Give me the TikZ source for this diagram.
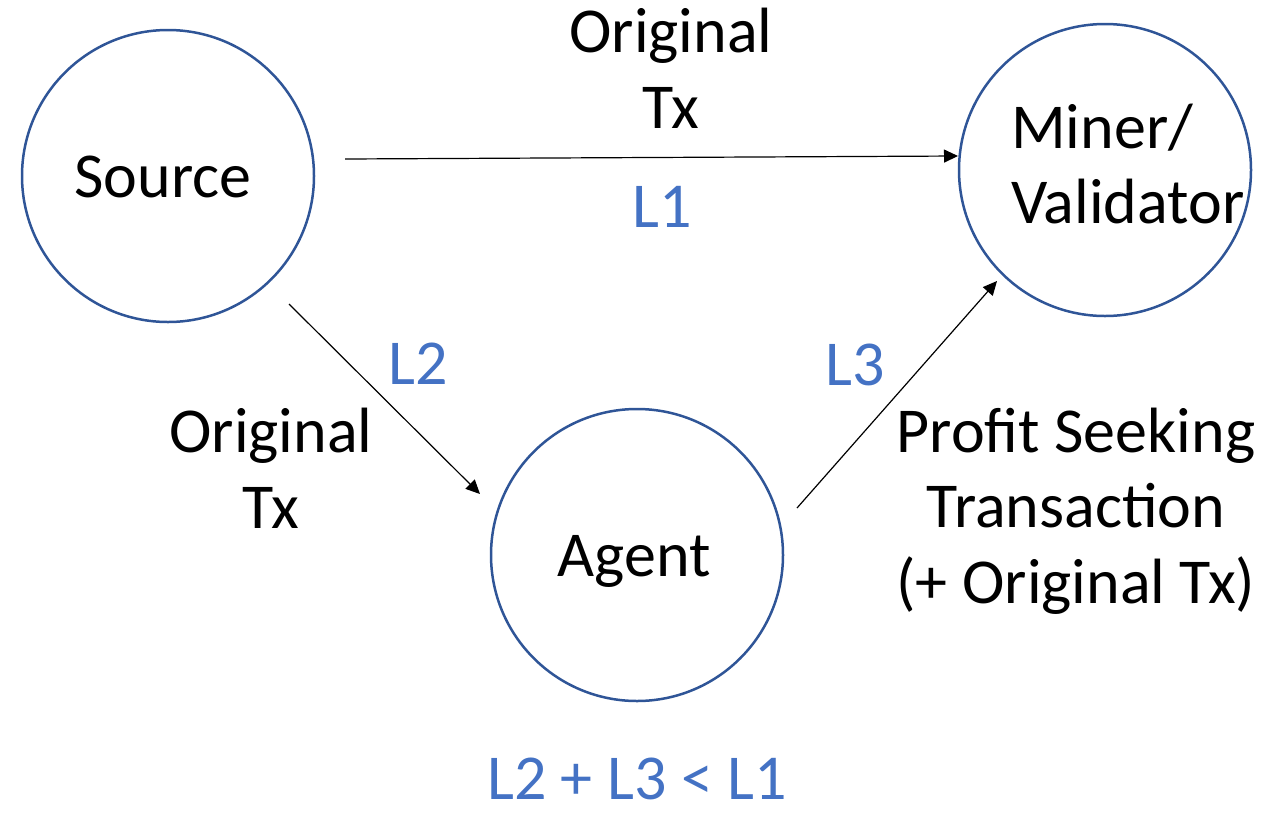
\documentclass[tikz,border=0pt]{standalone}
\usepackage{fontspec}
\setmainfont{Carlito}
\usetikzlibrary{arrows.meta}
\definecolor{ringblue}{HTML}{2F5597}
\definecolor{latblue}{HTML}{4472C4}
\begin{document}
\begin{tikzpicture}[x=1pt,y=-1pt,
  party/.style={circle, draw=ringblue, line width=2.5pt, minimum size=292pt, inner sep=0pt},
  lbl/.style={font=\fontsize{64}{75.5}\selectfont, inner sep=0pt, anchor=base, align=center},
  lat/.style={lbl, text=latblue},
  flow/.style={line width=1.2pt, -{Triangle[length=14pt,width=13pt]}}]
\useasboundingbox (0,0) rectangle (1261,812);

% the three parties
\node[party] (src) at (168,176) {};
\node[party] (mv)  at (1105,170) {};
\node[party] (ag)  at (637,555) {};

% names inside the circles (multi-line nodes sit on their last baseline)
\node[lbl] (srct) at (163,197) {Source};
\node[lbl] (agt)  at (634,576) {Agent};
\node[lbl, anchor=base west, align=left] (mvt) at (1011,223.5) {Miner/\\Validator};

% connector end points
\coordinate (s1) at (345,159);
\coordinate (e1) at (958,156);
\coordinate (s2) at (289,304);
\coordinate (e2) at (480,494);
\coordinate (s3) at (797,508);
\coordinate (e3) at (997,281);

\draw[flow] (s1) -- (e1);
\draw[flow] (s2) -- (e2);
\draw[flow] (s3) -- (e3);

% transaction labels
\node[lbl] (tx1) at (671,128) {Original\\Tx};
\node[lbl] (tx2) at (271,528) {Original\\Tx};
\node[lbl] (tx3) at (1076,603) {Profit Seeking\\Transaction\\(+ Original Tx)};

% latencies
\node[lat] (l1) at (662,227) {L1};
\node[lat] (l2) at (418,384) {L2};
\node[lat] (l3) at (855,385) {L3};
\node[lat, text depth=0pt] (sum) at (637,799) {L2 + L3 < L1};
\end{tikzpicture}
\end{document}
